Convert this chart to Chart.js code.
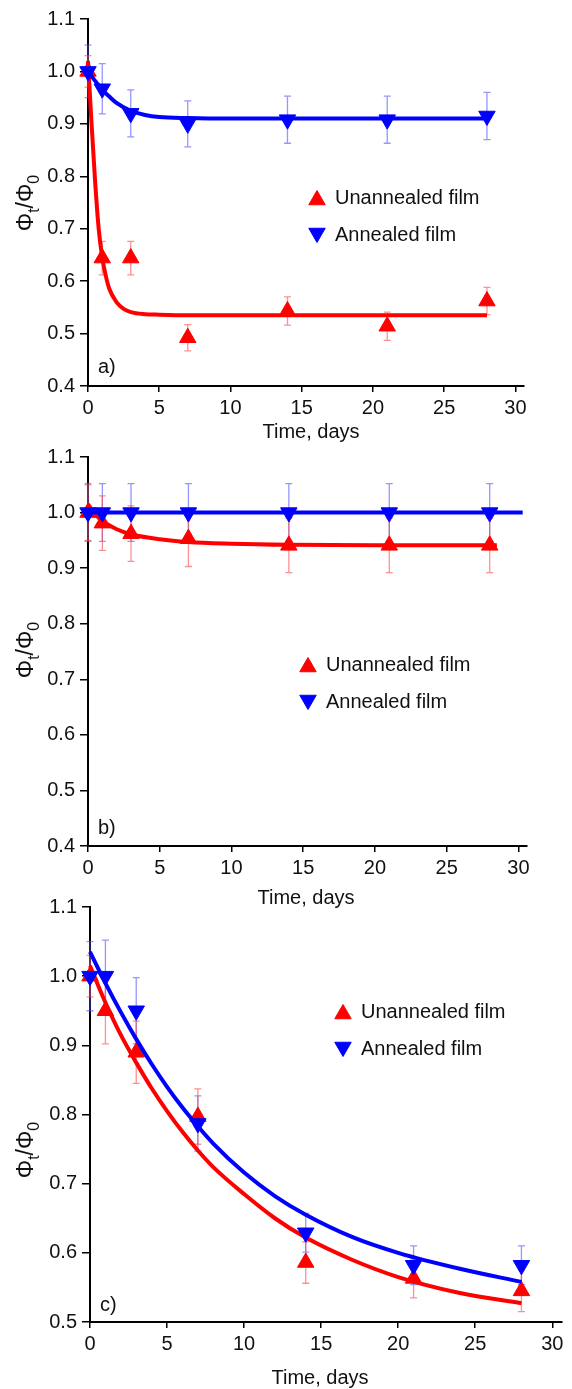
<!DOCTYPE html>
<html>
<head>
<meta charset="utf-8">
<script src="https://cdn.jsdelivr.net/npm/chart.js@4.4.1/dist/chart.umd.min.js"></script>
<style>
  html, body { margin: 0; padding: 0; background: #fff; }
  #wrap { position: relative; width: 572px; height: 1389px; overflow: hidden; }
  #wrap canvas { position: absolute; left: 0; }
</style>
</head>
<body>
<div id="wrap">
  <canvas id="panelA" width="572" height="450" style="top:0px"></canvas>
  <canvas id="panelB" width="572" height="470" style="top:440px"></canvas>
  <canvas id="panelC" width="572" height="499" style="top:890px"></canvas>
</div>
<script>
// measurement days (same for every panel)
const days = [0, 1, 3, 7, 14, 21, 28];
const xTicks = [0, 5, 10, 15, 20, 25, 30];
const yTicksAB = [0.4, 0.5, 0.6, 0.7, 0.8, 0.9, 1.0, 1.1];
const yTicksC = [0.5, 0.6, 0.7, 0.8, 0.9, 1.0, 1.1];

// panel a)
const aUnannealed = [1.0, 0.644, 0.644, 0.492, 0.543, 0.514, 0.562];
const aUnannealedErr = [0.03, 0.032, 0.032, 0.025, 0.027, 0.027, 0.026];
const aAnnealed = [1.0, 0.967, 0.92, 0.90, 0.908, 0.908, 0.915];
const aAnnealedErr = [0.05, 0.048, 0.045, 0.044, 0.045, 0.045, 0.045];
const aUnannealedFitX = [0, 0.25, 0.5, 0.75, 1, 1.25, 1.5, 2, 2.5, 3, 4, 5, 7, 28];
const aUnannealedFitY = [1.02, 0.9, 0.79, 0.7, 0.645, 0.61, 0.585, 0.56, 0.547, 0.541, 0.537, 0.536, 0.535, 0.535];
const aAnnealedFitX = [0, 0.5, 1, 1.5, 2, 3, 4, 5, 7, 10, 28];
const aAnnealedFitY = [1.0, 0.982, 0.965, 0.952, 0.94, 0.925, 0.917, 0.913, 0.911, 0.91, 0.91];

// panel b)
const bUnannealed = [1.0, 0.981, 0.962, 0.953, 0.941, 0.941, 0.941];
const bUnannealedErr = [0.05, 0.049, 0.05, 0.05, 0.049, 0.049, 0.049];
const bAnnealed = [1.0, 1.0, 1.0, 1.0, 1.0, 1.0, 1.0];
const bAnnealedErr = [0.052, 0.052, 0.052, 0.052, 0.052, 0.052, 0.052];
const bUnannealedFitX = [0, 0.5, 1, 2, 3, 5, 7, 10, 14, 20, 28.5];
const bUnannealedFitY = [1.015, 0.997, 0.985, 0.97, 0.961, 0.952, 0.947, 0.944, 0.942, 0.941, 0.941];
const bAnnealedFitX = [0, 30.3];
const bAnnealedFitY = [1.0, 1.0];

// panel c)
const cUnannealed = [1.0, 0.95, 0.89, 0.797, 0.586, 0.563, 0.545];
const cUnannealedErr = [0.03, 0.048, 0.045, 0.04, 0.03, 0.028, 0.03];
const cAnnealed = [1.0, 1.0, 0.95, 0.787, 0.629, 0.582, 0.582];
const cAnnealedErr = [0.05, 0.052, 0.048, 0.04, 0.028, 0.028, 0.028];
const cUnannealedFitX = [0, 1, 2, 3, 4, 5, 6, 7, 8, 10, 12, 14, 17, 20, 24, 28];
const cUnannealedFitY = [1.015, 0.962, 0.915, 0.875, 0.838, 0.805, 0.775, 0.748, 0.724, 0.685, 0.65, 0.622, 0.59, 0.565, 0.542, 0.527];
const cAnnealedFitX = [0, 1, 2, 3, 4, 5, 6, 7, 8, 10, 12, 14, 17, 20, 24, 28];
const cAnnealedFitY = [1.035, 0.99, 0.948, 0.909, 0.873, 0.84, 0.81, 0.783, 0.758, 0.716, 0.682, 0.655, 0.623, 0.6, 0.577, 0.558];

const FONT = "'Liberation Sans', Arial, Helvetica, sans-serif";
const RED = '#ff0000';
const BLUE = '#0000ff';
const RED_ERR = 'rgba(255, 70, 70, 0.6)';
const BLUE_ERR = 'rgba(80, 80, 255, 0.6)';

const pts = (xs, ys) => xs.map((x, i) => ({ x: x, y: ys[i] }));

// light error bars with small caps, drawn under the markers
const errorBarPlugin = {
  id: 'errorBars',
  beforeDatasetsDraw(chart) {
    const { ctx } = chart;
    const xs = chart.scales.x, ys = chart.scales.y;
    chart.data.datasets.forEach((ds) => {
      if (!ds.errors) return;
      ctx.save();
      ctx.strokeStyle = ds.errorColor;
      ctx.lineWidth = 1.3;
      ds.data.forEach((p, j) => {
        const e = ds.errors[j];
        const px = xs.getPixelForValue(p.x);
        const top = ys.getPixelForValue(p.y + e);
        const bot = ys.getPixelForValue(p.y - e);
        ctx.beginPath();
        ctx.moveTo(px, top); ctx.lineTo(px, bot);
        ctx.moveTo(px - 3.5, top); ctx.lineTo(px + 3.5, top);
        ctx.moveTo(px - 3.5, bot); ctx.lineTo(px + 3.5, bot);
        ctx.stroke();
      });
      ctx.restore();
    });
  }
};

// axis titles, panel letter and the in-plot legend
const decorPlugin = {
  id: 'decor',
  afterDraw(chart, args, opts) {
    const { ctx, chartArea: ca } = chart;
    ctx.save();
    ctx.fillStyle = '#111';

    // x title
    ctx.font = '20px ' + FONT;
    ctx.textAlign = 'center';
    ctx.textBaseline = 'middle';
    ctx.fillText('Time, days', opts.xTitleX, ca.bottom + opts.xTitleDy);

    // panel letter
    ctx.textAlign = 'left';
    ctx.fillText(opts.letter, ca.left + 10, ca.bottom - opts.letterDy);

    // y title  Φt/Φ0 with subscripts, rotated
    const parts = [['\u03A6', 23, 0], ['t', 16, 6], ['/', 23, 0], ['\u03A6', 23, 0], ['0', 16, 6]];
    let total = 0;
    parts.forEach((p) => { ctx.font = p[1] + 'px ' + FONT; total += ctx.measureText(p[0]).width; });
    ctx.translate(opts.yTitleX, opts.yTitleY);
    ctx.rotate(-Math.PI / 2);
    let cx = -total / 2;
    ctx.textBaseline = 'alphabetic';
    parts.forEach((p) => {
      ctx.font = p[1] + 'px ' + FONT;
      ctx.fillText(p[0], cx, 8 + p[2]);
      cx += ctx.measureText(p[0]).width;
    });
    ctx.setTransform(1, 0, 0, 1, 0, 0);

    // legend
    const items = [
      { text: 'Unannealed film', color: RED, rot: 0 },
      { text: 'Annealed film', color: BLUE, rot: 180 }
    ];
    items.forEach((it, i) => {
      const y = opts.legendY + i * opts.legendGap;
      ctx.fillStyle = it.color;
      ctx.strokeStyle = it.color;
      ctx.lineWidth = 1;
      Chart.helpers.drawPoint(ctx, { pointStyle: 'triangle', radius: 9.5, rotation: it.rot, borderWidth: 1 }, opts.legendX, y + (it.rot ? -2 : 2));
      ctx.fillStyle = '#111';
      ctx.font = '20px ' + FONT;
      ctx.textAlign = 'left';
      ctx.textBaseline = 'middle';
      ctx.fillText(it.text, opts.legendX + 18, y);
    });
    ctx.restore();
  }
};

function markerSet(label, data, err, color, errColor, rot) {
  return {
    label: label,
    data: pts(days, data),
    errors: err,
    errorColor: errColor,
    showLine: false,
    pointStyle: 'triangle',
    pointRotation: rot,
    pointRadius: 9.5,
    pointBackgroundColor: color,
    pointBorderColor: color,
    pointBorderWidth: 1,
    clip: false
  };
}

function fitSet(label, xs, ys, color) {
  return {
    label: label,
    data: pts(xs, ys),
    showLine: true,
    borderColor: color,
    borderWidth: 4,
    pointRadius: 0,
    cubicInterpolationMode: 'monotone',
    clip: false
  };
}

function makePanel(id, p) {
  new Chart(document.getElementById(id), {
    type: 'scatter',
    data: {
      datasets: [
        markerSet('Annealed film', p.ann, p.annErr, BLUE, BLUE_ERR, 180),
        fitSet('Annealed fit', p.annFitX, p.annFitY, BLUE),
        markerSet('Unannealed film', p.unann, p.unannErr, RED, RED_ERR, 0),
        fitSet('Unannealed fit', p.unannFitX, p.unannFitY, RED)
      ]
    },
    options: {
      responsive: false,
      animation: false,
      events: [],
      layout: { padding: { left: 0, right: p.padRight, top: p.padTop, bottom: 0 } },
      scales: {
        x: {
          type: 'linear',
          min: 0,
          max: 30.6,
          afterBuildTicks: (axis) => { axis.ticks = xTicks.map((v) => ({ value: v })); },
          afterFit: (axis) => { axis.height = p.xAxisHeight; },
          grid: { display: true, drawOnChartArea: false, drawTicks: true, tickLength: 6, color: '#000', lineWidth: 1.5 },
          border: { display: true, color: '#000', width: 2 },
          ticks: { color: '#111', font: { family: FONT, size: 20 }, padding: 4, maxRotation: 0, autoSkip: false }
        },
        y: {
          type: 'linear',
          min: p.yMin,
          max: 1.1,
          afterBuildTicks: (axis) => { axis.ticks = p.yTicks.map((v) => ({ value: v })); },
          afterFit: (axis) => { axis.width = p.yAxisWidth; },
          grid: { display: true, drawOnChartArea: false, drawTicks: true, tickLength: 8, color: '#000', lineWidth: 1.5 },
          border: { display: true, color: '#000', width: 2 },
          ticks: { color: '#111', font: { family: FONT, size: 20 }, padding: 5, autoSkip: false, callback: (v) => v.toFixed(1) }
        }
      },
      plugins: {
        legend: { display: false },
        tooltip: { enabled: false },
        decor: p.decor
      }
    },
    plugins: [errorBarPlugin, decorPlugin]
  });
}

makePanel('panelA', {
  ann: aAnnealed, annErr: aAnnealedErr, annFitX: aAnnealedFitX, annFitY: aAnnealedFitY,
  unann: aUnannealed, unannErr: aUnannealedErr, unannFitX: aUnannealedFitX, unannFitY: aUnannealedFitY,
  yMin: 0.4, yTicks: yTicksAB, padRight: 48, padTop: 19, xAxisHeight: 64, yAxisWidth: 88,
  decor: { xTitleX: 311, xTitleDy: 46, letter: 'a)', letterDy: 19, yTitleX: 25, yTitleY: 203,
           legendX: 317, legendY: 198, legendGap: 37 }
});

makePanel('panelB', {
  ann: bAnnealed, annErr: bAnnealedErr, annFitX: bAnnealedFitX, annFitY: bAnnealedFitY,
  unann: bUnannealed, unannErr: bUnannealedErr, unannFitX: bUnannealedFitX, unannFitY: bUnannealedFitY,
  yMin: 0.4, yTicks: yTicksAB, padRight: 45, padTop: 11, xAxisHeight: 64, yAxisWidth: 88,
  decor: { xTitleX: 306, xTitleDy: 52, letter: 'b)', letterDy: 18, yTitleX: 25, yTitleY: 210,
           legendX: 308, legendY: 225, legendGap: 37 }
});

makePanel('panelC', {
  ann: cAnnealed, annErr: cAnnealedErr, annFitX: cAnnealedFitX, annFitY: cAnnealedFitY,
  unann: cUnannealed, unannErr: cUnannealedErr, unannFitX: cUnannealedFitX, unannFitY: cUnannealedFitY,
  yMin: 0.5, yTicks: yTicksC, padRight: 2, padTop: 16, xAxisHeight: 67, yAxisWidth: 90,
  decor: { xTitleX: 320, xTitleDy: 56, letter: 'c)', letterDy: 17, yTitleX: 25, yTitleY: 260,
           legendX: 343, legendY: 122, legendGap: 37 }
});
</script>
</body>
</html>
